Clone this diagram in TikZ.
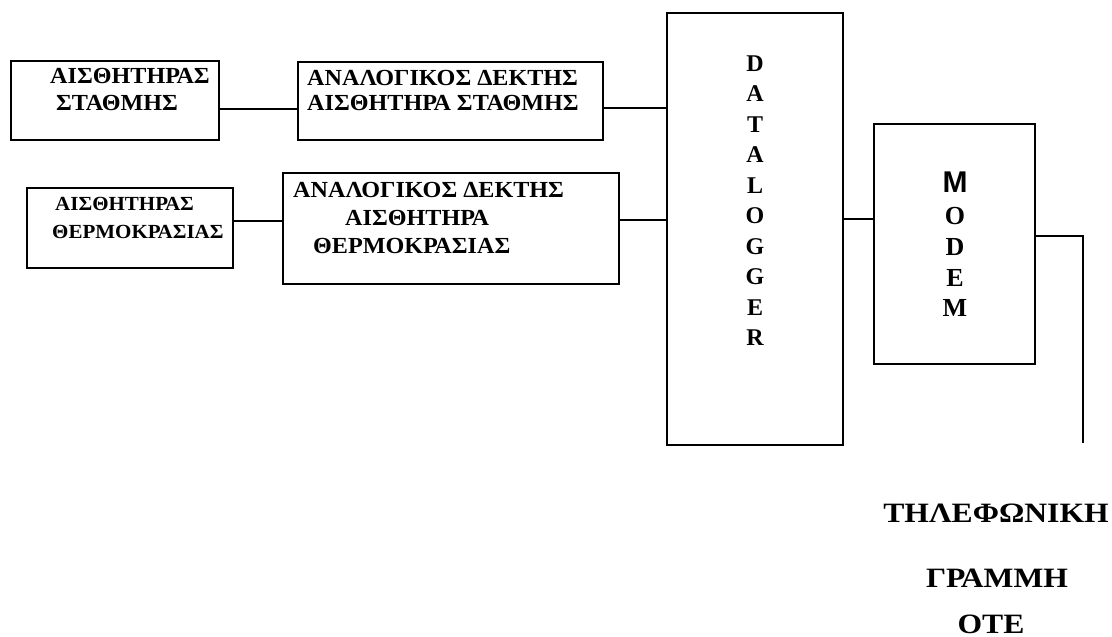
\documentclass[tikz,border=0pt]{standalone}
\usepackage{fontspec}
\setmainfont{Liberation Serif}
\newfontfamily\wideA[FakeStretch=1.05]{Liberation Serif}
\newfontfamily\wideB[FakeStretch=1.13]{Liberation Serif}
\newfontfamily\arialf{Liberation Sans}
\begin{document}
\begin{tikzpicture}[x=1pt,y=-1pt,
  box/.style={draw,line width=1.6pt,rectangle,inner sep=0pt},
  wire/.style={line width=1.6pt},
  txt/.style={anchor=base west,inner sep=0pt,font=\wideA\bfseries\fontsize{23}{23}\selectfont},
  txts/.style={anchor=base west,inner sep=0pt,font=\wideA\bfseries\fontsize{20}{20}\selectfont},
  vl/.style={anchor=base,inner sep=0pt,font=\bfseries\fontsize{24}{24}\selectfont},
  ml/.style={anchor=base,inner sep=0pt,font=\bfseries\fontsize{26}{26}\selectfont},
  big/.style={anchor=base,inner sep=0pt,font=\wideB\bfseries\fontsize{28}{28}\selectfont}]
\useasboundingbox (0,0) rectangle (1112,637);
% boxes
\node[box,minimum width=208pt,minimum height=79pt] (b1) at (115,100.5) {};
\node[box,minimum width=305pt,minimum height=78pt] (b2) at (450.5,101) {};
\node[box,minimum width=206pt,minimum height=80pt] (b3) at (130,228) {};
\node[box,minimum width=336pt,minimum height=111pt] (b4) at (451,228.5) {};
\node[box,minimum width=176pt,minimum height=432pt] (dl) at (755,229) {};
\node[box,minimum width=161pt,minimum height=240pt] (md) at (954.5,244) {};
% texts
\node[txt] (t1a) at (50,83) {ΑΙΣΘΗΤΗΡΑΣ};
\node[txt] (t1b) at (56,110) {ΣΤΑΘΜΗΣ};
\node[txt] (t2a) at (307,85) {ΑΝΑΛΟΓΙΚΟΣ ΔΕΚΤΗΣ};
\node[txt] (t2b) at (307,110) {ΑΙΣΘΗΤΗΡΑ ΣΤΑΘΜΗΣ};
\node[txts] (t3a) at (55,210) {ΑΙΣΘΗΤΗΡΑΣ};
\node[txts] (t3b) at (52,238) {ΘΕΡΜΟΚΡΑΣΙΑΣ};
\node[txt] (t4a) at (293,197) {ΑΝΑΛΟΓΙΚΟΣ ΔΕΚΤΗΣ};
\node[txt] (t4b) at (345,225) {ΑΙΣΘΗΤΗΡΑ};
\node[txt] (t4c) at (313,253) {ΘΕΡΜΟΚΡΑΣΙΑΣ};
% datalogger letters
\foreach \L [count=\i from 0] in {D,A,T,A,L,O,G,G,E,R}
  \node[vl] (dl\i) at (755,71+30.5*\i) {\L};
% modem letters
\node[anchor=base,inner sep=0pt,font=\arialf\bfseries\fontsize{30}{30}\selectfont] (m0) at (955,192) {M};
\node[ml] (m1) at (955,224) {O};
\node[ml] (m2) at (955,255) {D};
\node[ml] (m3) at (955,286) {E};
\node[ml] (m4) at (955,316) {M};
% bottom text
\node[big] (o1) at (996,522) {ΤΗΛΕΦΩΝΙΚΗ};
\node[big] (o2) at (997,587) {ΓΡΑΜΜΗ};
\node[big] (o3) at (991,633) {ΟΤΕ};
% connectors
\coordinate (lineend) at (1083,443);
\draw[wire] (b1.east |- 0,109) -- (b2.west |- 0,109);
\draw[wire] (b2.east |- 0,108) -- (dl.west |- 0,108);
\draw[wire] (b3.east |- 0,221) -- (b4.west |- 0,221);
\draw[wire] (b4.east |- 0,220) -- (dl.west |- 0,220);
\draw[wire] (dl.east |- 0,219) -- (md.west |- 0,219);
\draw[wire] (md.east |- 0,236) -| (lineend);
\end{tikzpicture}
\end{document}
